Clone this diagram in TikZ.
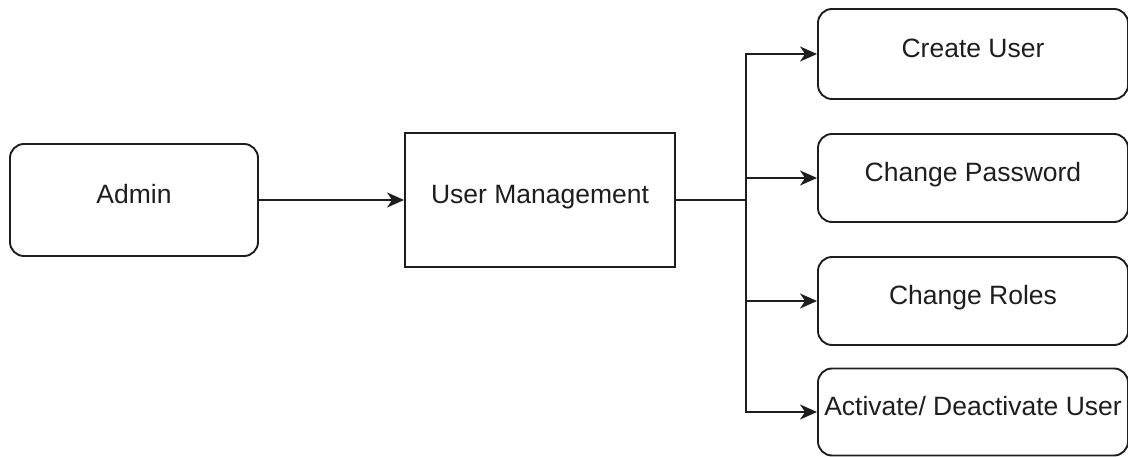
\documentclass[tikz,border=0pt]{standalone}
\usepackage{fontspec}
\setmainfont{Liberation Sans}
\usetikzlibrary{arrows.meta}
\definecolor{ink}{HTML}{1E1E1E}
\tikzset{
  box/.style={draw=ink, line width=1.9pt, fill=white, inner sep=0pt,
    font=\fontsize{26.5}{30}\selectfont, text=ink,
    text height=19pt, text depth=12pt},
  roundbox/.style={box, rounded corners=14pt},
  flow/.style={draw=ink, line width=1.9pt,
    -{Stealth[length=17pt, width=15pt, inset=5pt]}},
  wire/.style={draw=ink, line width=1.9pt},
}
\begin{document}
\begin{tikzpicture}[x=1pt, y=-1pt]
  \useasboundingbox (0,0) rectangle (1128,457);

  % left: actor and module
  \node[roundbox, minimum width=248pt, minimum height=112pt] (admin) at (134,200) {Admin};
  \node[box, minimum width=270pt, minimum height=134pt] (um) at (540,200) {User Management};

  % right: operations
  \node[roundbox, minimum width=310pt, minimum height=90pt] (create) at (973,54) {Create User};
  \node[roundbox, minimum width=310pt, minimum height=88pt] (pwd) at (973,178) {Change Password};
  \node[roundbox, minimum width=310pt, minimum height=88pt] (roles) at (973,301) {Change Roles};
  \node[roundbox, minimum width=310pt, minimum height=87pt] (act) at (973,412) {Activate/ Deactivate User};

  % connectors
  \draw[flow] (admin) -- (um);
  \coordinate (split) at (746,200);
  \draw[wire] (um.east) -- (split);
  \draw[flow] (split) |- (create.west);
  \draw[flow] (split) |- (pwd.west);
  \draw[flow] (split) |- (roles.west);
  \draw[flow] (split) |- (act.west);
\end{tikzpicture}
\end{document}
